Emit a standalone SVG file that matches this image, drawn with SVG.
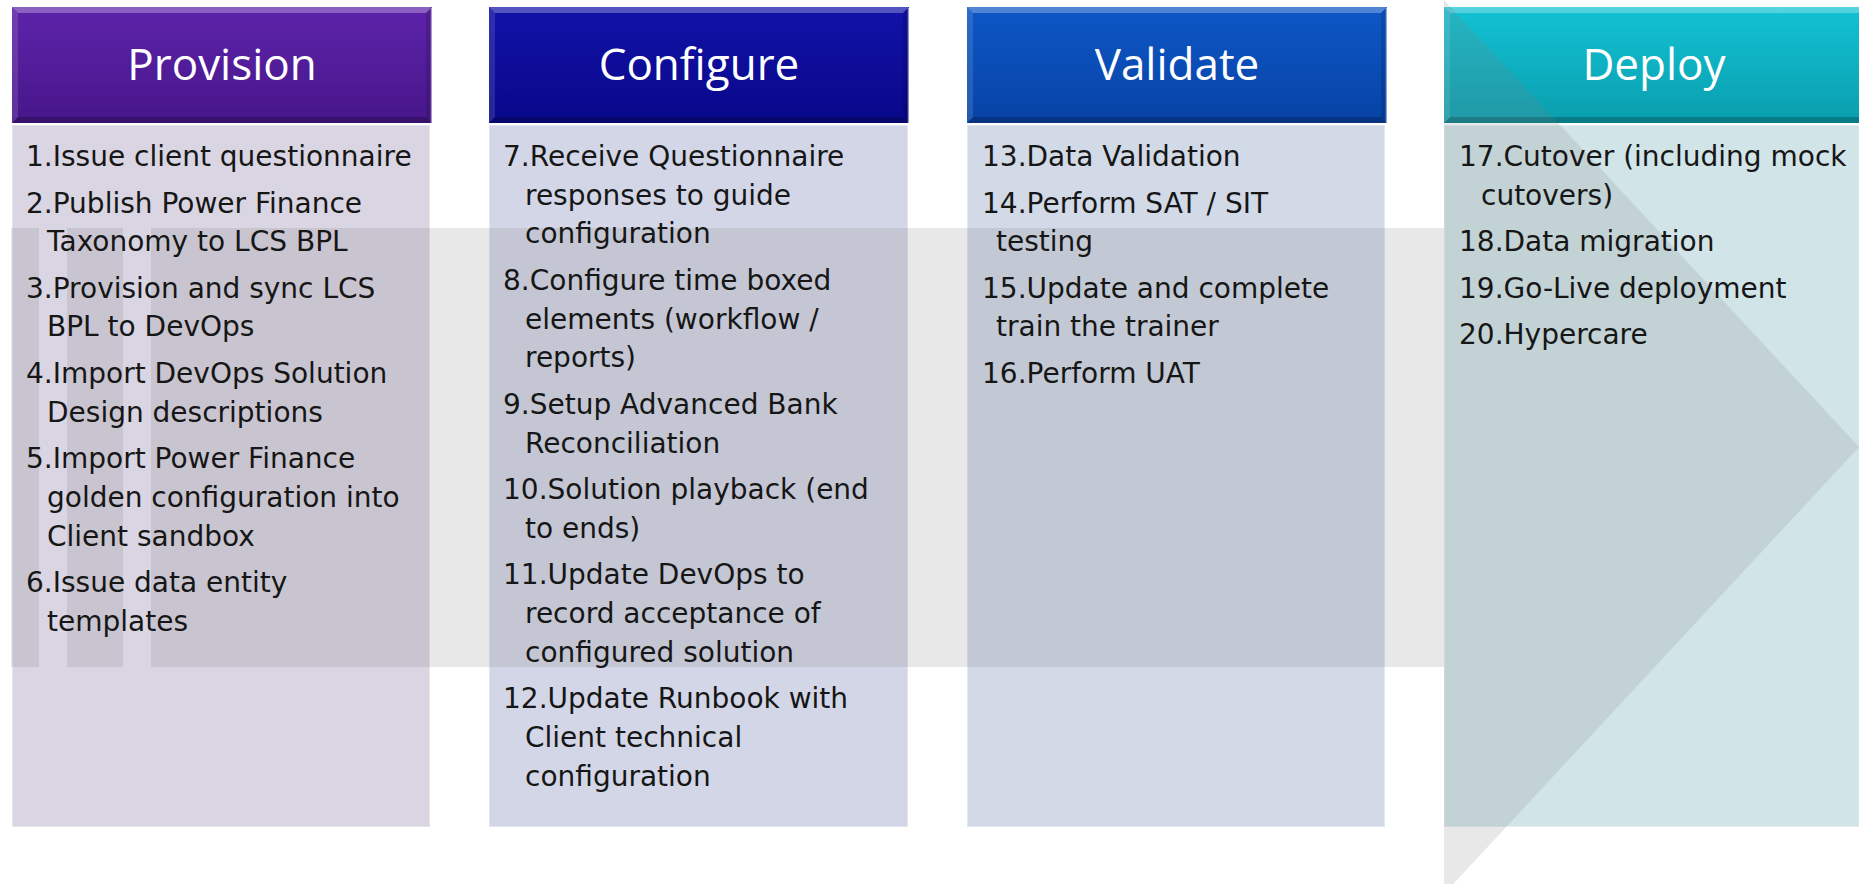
<svg xmlns="http://www.w3.org/2000/svg" width="1859" height="884" viewBox="0 0 1859 884">
<defs>
<linearGradient id="gP" x1="0" y1="0" x2="0" y2="1"><stop offset="0" stop-color="#5d23aa"/><stop offset="1" stop-color="#47168a"/></linearGradient>
<linearGradient id="gC" x1="0" y1="0" x2="0" y2="1"><stop offset="0" stop-color="#1212a8"/><stop offset="1" stop-color="#08088a"/></linearGradient>
<linearGradient id="gV" x1="0" y1="0" x2="0" y2="1"><stop offset="0" stop-color="#0d57c6"/><stop offset="1" stop-color="#0843a6"/></linearGradient>
<linearGradient id="gD" x1="0" y1="0" x2="0" y2="1"><stop offset="0" stop-color="#12c2d4"/><stop offset="1" stop-color="#0a9eae"/></linearGradient>
</defs>
<style>
.hl{fill:#ffffff;fill-opacity:0.28}
.hs{fill:#ffffff;fill-opacity:0.12}
.sd{fill:#000000;fill-opacity:0.22}
.sr{fill:#000000;fill-opacity:0.12}
.edge{fill:none;stroke:#ffffff;stroke-opacity:0.55;stroke-width:1.5}
.body{stroke:#ffffff;stroke-opacity:0.35;stroke-width:2}
.arrow{fill:#808080;fill-opacity:0.18}
.title{font-family:"Open Sans","Noto Sans","DejaVu Sans",sans-serif;font-size:44px;fill:#ffffff;text-anchor:middle}
.item{font-family:"DejaVu Sans","Noto Sans",sans-serif;font-size:28px;fill:#161616}
</style>
<rect width="1859" height="884" fill="#ffffff"/>

<g id="phase-shapes">
  <g id="provision-box">
    <rect class="body" x="12" y="125" width="418" height="702" fill="#d9d5e2"/>
    <rect x="12" y="7" width="420" height="116" fill="url(#gP)"/>
    <polygon class="hl" points="12,7 432,7 426,13 18,13"/>
    <polygon class="hs" points="12,7 18,13 18,117 12,123"/>
    <polygon class="sd" points="12,123 18,117 426,117 432,123"/>
    <polygon class="sr" points="432,7 432,123 426,117 426,13"/>
    <line class="edge" x1="431.5" y1="8" x2="431.5" y2="123"/>
  </g>
  <g id="configure-box">
    <rect class="body" x="489" y="125" width="419" height="702" fill="#d3d6e7"/>
    <rect x="489" y="7" width="420" height="116" fill="url(#gC)"/>
    <polygon class="hl" points="489,7 909,7 903,13 495,13"/>
    <polygon class="hs" points="489,7 495,13 495,117 489,123"/>
    <polygon class="sd" points="489,123 495,117 903,117 909,123"/>
    <polygon class="sr" points="909,7 909,123 903,117 903,13"/>
    <line class="edge" x1="908.5" y1="8" x2="908.5" y2="123"/>
  </g>
  <g id="validate-box">
    <rect class="body" x="967" y="125" width="418" height="702" fill="#d2d9e7"/>
    <rect x="967" y="7" width="420" height="116" fill="url(#gV)"/>
    <polygon class="hl" points="967,7 1387,7 1381,13 973,13"/>
    <polygon class="hs" points="967,7 973,13 973,117 967,123"/>
    <polygon class="sd" points="967,123 973,117 1381,117 1387,123"/>
    <polygon class="sr" points="1387,7 1387,123 1381,117 1381,13"/>
    <line class="edge" x1="1386.5" y1="8" x2="1386.5" y2="123"/>
  </g>
  <g id="deploy-box">
    <rect class="body" x="1444" y="125" width="420" height="702" fill="#d1e4e8"/>
    <rect x="1444" y="7" width="420" height="116" fill="url(#gD)"/>
    <polygon class="hl" points="1444,7 1864,7 1858,13 1450,13"/>
    <polygon class="hs" points="1444,7 1450,13 1450,117 1444,123"/>
    <polygon class="sd" points="1444,123 1450,117 1858,117 1864,123"/>
  </g>
</g>

<g id="background-arrow">
  <path class="arrow" d="M11,228 H39 V667 H11 Z M67,228 H123 V667 H67 Z M151,228 H1444 V0 L1859,447 L1444,894 V667 H151 Z"/>
</g>

<g id="provision">
  <text class="title" x="222" y="80">Provision</text>
  <text class="item" x="26" y="166">1.Issue client questionnaire</text>
  <text class="item" x="26" y="212.5">2.Publish Power Finance</text>
  <text class="item" x="47" y="251.2">Taxonomy to LCS BPL</text>
  <text class="item" x="26" y="297.7">3.Provision and sync LCS</text>
  <text class="item" x="47" y="336.4">BPL to DevOps</text>
  <text class="item" x="26" y="382.9">4.Import DevOps Solution</text>
  <text class="item" x="47" y="421.6">Design descriptions</text>
  <text class="item" x="26" y="468.1">5.Import Power Finance</text>
  <text class="item" x="47" y="506.8">golden configuration into</text>
  <text class="item" x="47" y="545.5">Client sandbox</text>
  <text class="item" x="26" y="592">6.Issue data entity</text>
  <text class="item" x="47" y="630.7">templates</text>
</g>

<g id="configure">
  <text class="title" x="699" y="80">Configure</text>
  <text class="item" x="503" y="166">7.Receive Questionnaire</text>
  <text class="item" x="525" y="204.7">responses to guide</text>
  <text class="item" x="525" y="243.4">configuration</text>
  <text class="item" x="503" y="289.9">8.Configure time boxed</text>
  <text class="item" x="525" y="328.6">elements (workflow /</text>
  <text class="item" x="525" y="367.3">reports)</text>
  <text class="item" x="503" y="413.8">9.Setup Advanced Bank</text>
  <text class="item" x="525" y="452.5">Reconciliation</text>
  <text class="item" x="503" y="499">10.Solution playback (end</text>
  <text class="item" x="525" y="537.7">to ends)</text>
  <text class="item" x="503" y="584.2">11.Update DevOps to</text>
  <text class="item" x="525" y="622.9">record acceptance of</text>
  <text class="item" x="525" y="661.6">configured solution</text>
  <text class="item" x="503" y="708.1">12.Update Runbook with</text>
  <text class="item" x="525" y="746.8">Client technical</text>
  <text class="item" x="525" y="785.5">configuration</text>
</g>

<g id="validate">
  <text class="title" x="1177" y="80">Validate</text>
  <text class="item" x="982" y="166">13.Data Validation</text>
  <text class="item" x="982" y="212.5">14.Perform SAT / SIT</text>
  <text class="item" x="996" y="251.2">testing</text>
  <text class="item" x="982" y="297.7">15.Update and complete</text>
  <text class="item" x="996" y="336.4">train the trainer</text>
  <text class="item" x="982" y="382.9">16.Perform UAT</text>
</g>

<g id="deploy">
  <text class="title" x="1654" y="80">Deploy</text>
  <text class="item" x="1459" y="166">17.Cutover (including mock</text>
  <text class="item" x="1481" y="204.7">cutovers)</text>
  <text class="item" x="1459" y="251.2">18.Data migration</text>
  <text class="item" x="1459" y="297.7">19.Go-Live deployment</text>
  <text class="item" x="1459" y="344.2">20.Hypercare</text>
</g>
</svg>
